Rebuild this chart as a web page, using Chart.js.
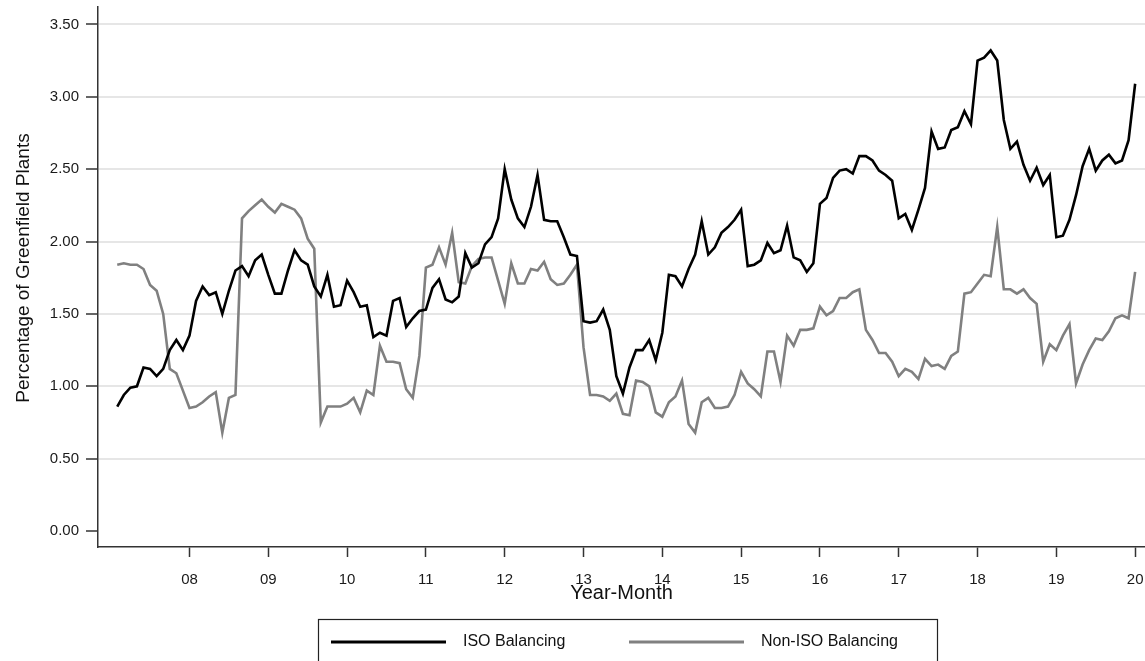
<!DOCTYPE html>
<html lang="en">
  <head>
    <meta charset="UTF-8" />
    <title>Greenfield Plants</title>
    <script src="https://cdn.jsdelivr.net/npm/chart.js@4.4.1/dist/chart.umd.min.js"></script>
    <style>
      html, body { margin: 0; padding: 0; background: #fff; }
      canvas { display: block; }
    </style>
  </head>
  <body>
    <canvas id="myChart" width="1145" height="661"></canvas>
    <script>
      // months counted from Jan 2007 (0); series starts Feb 2007
      const firstMonth = 1;

      // ISO balancing, one row per year (first row Feb-Dec 2007)
      const isoBalancing = [
        0.86, 0.94, 0.99, 1.00, 1.13, 1.12, 1.07, 1.12, 1.25, 1.32, 1.25,
        1.35, 1.59, 1.69, 1.63, 1.65, 1.50, 1.66, 1.80, 1.83, 1.76, 1.87, 1.91,
        1.77, 1.64, 1.64, 1.80, 1.94, 1.87, 1.84, 1.69, 1.62, 1.77, 1.55, 1.56,
        1.73, 1.65, 1.55, 1.56, 1.34, 1.37, 1.35, 1.59, 1.61, 1.41, 1.47, 1.52,
        1.53, 1.68, 1.74, 1.60, 1.58, 1.62, 1.92, 1.82, 1.85, 1.98, 2.03, 2.16,
        2.50, 2.29, 2.16, 2.10, 2.24, 2.46, 2.15, 2.14, 2.14, 2.03, 1.91, 1.90,
        1.45, 1.44, 1.45, 1.53, 1.39, 1.07, 0.95, 1.13, 1.25, 1.25, 1.32, 1.18,
        1.37, 1.77, 1.76, 1.69, 1.81, 1.91, 2.14, 1.91, 1.96, 2.06, 2.10, 2.15,
        2.22, 1.83, 1.84, 1.87, 1.99, 1.92, 1.94, 2.11, 1.89, 1.87, 1.79, 1.85,
        2.26, 2.30, 2.44, 2.49, 2.50, 2.47, 2.59, 2.59, 2.56, 2.49, 2.46, 2.42,
        2.16, 2.19, 2.08, 2.22, 2.37, 2.76, 2.64, 2.65, 2.77, 2.79, 2.90, 2.81,
        3.25, 3.27, 3.32, 3.25, 2.84, 2.64, 2.69, 2.53, 2.42, 2.51, 2.39, 2.46,
        2.03, 2.04, 2.15, 2.32, 2.52, 2.64, 2.49, 2.56, 2.60, 2.54, 2.56, 2.70,
        3.09
      ];

      const nonIsoBalancing = [
        1.84, 1.85, 1.84, 1.84, 1.81, 1.70, 1.66, 1.50, 1.12, 1.09, 0.97,
        0.85, 0.86, 0.89, 0.93, 0.96, 0.68, 0.92, 0.94, 2.16, 2.21, 2.25, 2.29,
        2.24, 2.20, 2.26, 2.24, 2.22, 2.16, 2.02, 1.95, 0.75, 0.86, 0.86, 0.86,
        0.88, 0.92, 0.82, 0.97, 0.94, 1.28, 1.17, 1.17, 1.16, 0.98, 0.92, 1.21,
        1.82, 1.84, 1.96, 1.84, 2.06, 1.72, 1.71, 1.83, 1.88, 1.89, 1.89, 1.73,
        1.57, 1.85, 1.71, 1.71, 1.81, 1.80, 1.86, 1.74, 1.70, 1.71, 1.77, 1.84,
        1.27, 0.94, 0.94, 0.93, 0.90, 0.95, 0.81, 0.80, 1.04, 1.03, 1.00, 0.82,
        0.79, 0.89, 0.93, 1.04, 0.74, 0.68, 0.89, 0.92, 0.85, 0.85, 0.86, 0.94,
        1.10, 1.02, 0.98, 0.93, 1.24, 1.24, 1.03, 1.35, 1.28, 1.39, 1.39, 1.40,
        1.55, 1.49, 1.52, 1.61, 1.61, 1.65, 1.67, 1.39, 1.32, 1.23, 1.23, 1.17,
        1.07, 1.12, 1.10, 1.05, 1.19, 1.14, 1.15, 1.12, 1.21, 1.24, 1.64, 1.65,
        1.71, 1.77, 1.76, 2.10, 1.67, 1.67, 1.64, 1.67, 1.61, 1.57, 1.17, 1.29,
        1.25, 1.35, 1.43, 1.02, 1.15, 1.25, 1.33, 1.32, 1.38, 1.47, 1.49, 1.47,
        1.79
      ];

      const xTickMonths = [12, 24, 36, 48, 60, 72, 84, 96, 108, 120, 132, 144, 156];
      const xTickLabels = ["08", "09", "10", "11", "12", "13", "14", "15", "16", "17", "18", "19", "20"];
      const yTicks = [0, 0.5, 1, 1.5, 2, 2.5, 3, 3.5];
      const yTitle = "Percentage of Greenfield Plants";

      const toPoints = (arr) => arr.map((v, i) => ({ x: firstMonth + i, y: v }));

      Chart.defaults.font.family = '"Liberation Sans", Arial, sans-serif';
      Chart.defaults.color = "#1a1a1a";

      // Stata-style boxed legend under the axis title, plus the y title
      const boxLegend = {
        id: "boxLegend",
        afterDraw(chart) {
          const ctx = chart.ctx;
          const lineX = [331, 629];
          const y = 642;
          ctx.save();
          ctx.strokeStyle = "#222";
          ctx.lineWidth = 1.2;
          ctx.strokeRect(318.5, 619.5, 619, 60);
          ctx.font = '16px "Liberation Sans", Arial, sans-serif';
          ctx.textBaseline = "middle";
          chart.data.datasets.forEach((ds, i) => {
            ctx.strokeStyle = ds.borderColor;
            ctx.lineWidth = 3;
            ctx.beginPath();
            ctx.moveTo(lineX[i], y);
            ctx.lineTo(lineX[i] + 115, y);
            ctx.stroke();
            ctx.fillStyle = "#111";
            ctx.fillText(ds.label, lineX[i] + 132, y);
          });

          // y axis title, a bit above the plot centre like the original
          ctx.translate(24, 268);
          ctx.rotate(-Math.PI / 2);
          ctx.font = '19px "Liberation Sans", Arial, sans-serif';
          ctx.textAlign = "center";
          ctx.fillText(yTitle, 0, 0);
          ctx.restore();
        }
      };

      const ctx = document.getElementById("myChart").getContext("2d");
      const chart = new Chart(ctx, {
        type: "line",
        data: {
          datasets: [
            {
              label: "ISO Balancing",
              data: toPoints(isoBalancing),
              borderColor: "#000000",
              backgroundColor: "#000000",
              borderWidth: 2.6,
              pointRadius: 0,
              fill: false
            },
            {
              label: "Non-ISO Balancing",
              data: toPoints(nonIsoBalancing),
              borderColor: "#808080",
              backgroundColor: "#808080",
              borderWidth: 2.6,
              pointRadius: 0,
              fill: false
            }
          ]
        },
        options: {
          responsive: false,
          animation: false,
          layout: { padding: { top: 7, right: 0, bottom: 56, left: 0 } },
          plugins: {
            legend: { display: false },
            tooltip: { enabled: false }
          },
          scales: {
            x: {
              type: "linear",
              min: -1.93,
              max: 157.5,
              afterBuildTicks: (s) => { s.ticks = xTickMonths.map((v) => ({ value: v })); },
              afterFit: (s) => {
                s.height = 58;
                s.paddingLeft = 0;
                s.paddingRight = 0;
              },
              ticks: {
                autoSkip: false,
                maxRotation: 0,
                padding: 14,
                font: { size: 15 },
                callback: (v, i) => xTickLabels[i]
              },
              grid: { drawOnChartArea: false, tickLength: 10, tickColor: "#333", tickWidth: 1.5 },
              border: { color: "#333", width: 1.5 },
              title: { display: true, text: "Year-Month", font: { size: 20 }, color: "#111", padding: 0 }
            },
            y: {
              min: -0.11,
              max: 3.62,
              afterBuildTicks: (s) => { s.ticks = yTicks.map((v) => ({ value: v })); },
              afterFit: (s) => {
                s.width = 98;
                s.paddingTop = 0;
                s.paddingBottom = 0;
              },
              ticks: {
                padding: 7,
                font: { size: 15 },
                callback: (v) => v.toFixed(2)
              },
              grid: {
                color: (c) => (c.tick && c.tick.value === 0 ? "rgba(0,0,0,0)" : "#e6e6e6"),
                lineWidth: 2,
                tickLength: 12,
                tickColor: "#333",
                tickWidth: 1.5
              },
              border: { color: "#333", width: 1.5 }
            }
          }
        },
        plugins: [boxLegend]
      });
    </script>
  </body>
</html>
